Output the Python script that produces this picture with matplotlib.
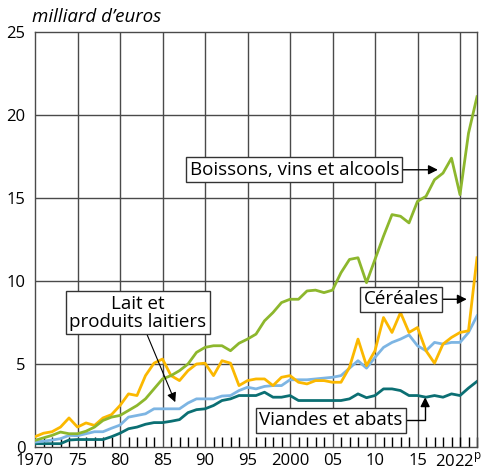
import numpy as np
import matplotlib.pyplot as plt

plt.rcParams['font.family'] = ['Open Sans', 'DejaVu Sans']

# Données (milliard d'euros)
annees = np.arange(1970, 2023)

boissons = [0.4, 0.55, 0.7, 0.9, 0.8, 0.8, 0.95, 1.2, 1.6, 1.8,
            1.9, 2.2, 2.5, 2.9, 3.5, 4.1, 4.3, 4.6, 5.0, 5.7,
            6.0, 6.1, 6.1, 5.8, 6.25, 6.5, 6.8, 7.6, 8.1, 8.7,
            8.9, 8.9, 9.4, 9.45, 9.3, 9.45, 10.5, 11.3, 11.4, 9.9,
            11.3, 12.7, 14.0, 13.9, 13.5, 14.8, 15.1, 16.1, 16.5, 17.4,
            15.2, 18.9, 21.1]

cereales = [0.62, 0.83, 0.92, 1.2, 1.75, 1.2, 1.45, 1.3, 1.75, 1.95,
            2.5, 3.2, 3.1, 4.3, 5.05, 5.3, 4.3, 4.0, 4.6, 5.0,
            5.05, 4.3, 5.2, 5.05, 3.7, 4.0, 4.1, 4.1, 3.7, 4.2,
            4.3, 3.9, 3.8, 4.0, 4.0, 3.9, 3.9, 4.8, 6.5, 4.9,
            5.8, 7.8, 6.9, 8.1, 6.9, 7.2, 5.8, 5.05, 6.2, 6.6,
            6.9, 7.0, 11.4]

lait = [0.3, 0.35, 0.42, 0.5, 0.7, 0.68, 0.8, 0.92, 0.92, 1.13,
        1.32, 1.8, 1.9, 2.0, 2.3, 2.3, 2.3, 2.3, 2.65, 2.9,
        2.9, 2.9, 3.07, 3.1, 3.4, 3.6, 3.5, 3.65, 3.7, 3.7,
        4.05, 4.05, 4.05, 4.1, 4.15, 4.2, 4.3, 4.75, 5.2, 4.75,
        5.4, 6.0, 6.3, 6.5, 6.75, 6.1, 5.8, 6.3, 6.2, 6.3,
        6.3, 6.9, 7.9]

viandes = [0.2, 0.2, 0.2, 0.2, 0.42, 0.45, 0.45, 0.45, 0.45, 0.62,
           0.83, 1.1, 1.2, 1.37, 1.47, 1.47, 1.55, 1.65, 2.07, 2.25,
           2.3, 2.5, 2.8, 2.9, 3.1, 3.1, 3.1, 3.3, 3.0, 3.0,
           3.1, 2.8, 2.8, 2.8, 2.8, 2.8, 2.8, 2.9, 3.2, 2.97,
           3.1, 3.5, 3.5, 3.4, 3.1, 3.1, 3.0, 3.1, 3.0, 3.2,
           3.1, 3.55, 3.95]

xticks = [1970, 1975, 1980, 1985, 1990, 1995, 2000, 2005, 2010, 2015]
xlabels = ['1970', '75', '80', '85', '90', '95', '2000', '05', '10', '15']

fig = plt.figure(figsize=(4.84, 4.70), dpi=100)
ax = fig.add_axes([35/484, 23/470, 442/484, 415/470])

grille = '#4a4a4a'
for x in range(1975, 2021, 5):
    ax.axvline(x, color=grille, lw=1, zorder=1)
for y in range(5, 25, 5):
    ax.axhline(y, color=grille, lw=1, zorder=1)

lw = 2.0
ax.plot(annees, viandes, color='#0B6F73', lw=lw, zorder=3)
ax.plot(annees, lait, color='#7DB5E3', lw=lw, zorder=3)
ax.plot(annees, cereales, color='#FBB800', lw=lw, zorder=4)
ax.plot(annees, boissons, color='#8DB72D', lw=lw, zorder=4)

ax.set_xlim(1970, 2022)
ax.set_ylim(0, 25)
for s in ax.spines.values():
    s.set_color(grille)
    s.set_linewidth(1)

ax.set_yticks([0, 5, 10, 15, 20, 25])
ax.set_xticks(xticks)
ax.set_xticklabels(xlabels)
ax.set_xticks(np.arange(1970, 2023), minor=True)
ax.tick_params(axis='y', length=0, pad=7, labelsize=12)
ax.tick_params(axis='x', which='major', length=0, pad=4, labelsize=12)
ax.tick_params(axis='x', which='minor', direction='in', length=7, width=1, color='black')
ax.text(2022.6, -0.3, '2022$^{\\mathregular{p}}$', ha='right', va='top', fontsize=12)

fig.text(32/484, 1 - 17/470, 'milliard d\u2019euros', style='italic', fontsize=13.5,
         ha='left', va='center')

taille = 13.5
boite = dict(boxstyle='square,pad=0.18', fc='white', ec='#333333', lw=1)
fleche = dict(arrowstyle='-|>', color='black', lw=1, shrinkA=0, shrinkB=0, mutation_scale=14)

ax.annotate('Boissons, vins et alcools', xy=(2017.4, 16.7), xytext=(2000.5, 16.7),
            ha='center', va='center', fontsize=taille, bbox=boite, arrowprops=fleche, zorder=5)
ax.annotate('Lait et\nproduits laitiers', xy=(1986.5, 2.7), xytext=(1982.1, 8.1),
            ha='center', va='center', fontsize=taille, linespacing=1.0, bbox=boite,
            arrowprops=dict(arrowstyle='-|>', color='black', lw=0.8, shrinkA=0, shrinkB=0,
                            mutation_scale=14), zorder=5)
ax.annotate('Céréales', xy=(2020.8, 8.9), xytext=(2013.1, 8.9),
            ha='center', va='center', fontsize=taille, bbox=boite, arrowprops=fleche, zorder=5)
ax.annotate('Viandes et abats', xy=(2015.9, 3.0), xytext=(2004.8, 1.6),
            ha='center', va='center', fontsize=taille, bbox=boite,
            arrowprops=dict(arrowstyle='-|>', color='black', lw=1, shrinkA=0, shrinkB=0,
                            mutation_scale=14,
                            connectionstyle='angle,angleA=0,angleB=90,rad=0'), zorder=5)

plt.savefig('out.png', dpi=100)
plt.close()
